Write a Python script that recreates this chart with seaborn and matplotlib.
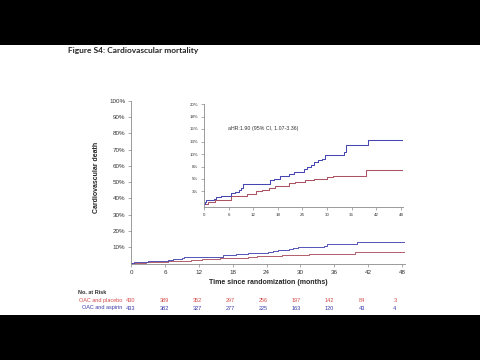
import numpy as np
import pandas as pd
import matplotlib
matplotlib.use("Agg")
import matplotlib.pyplot as plt
import seaborn as sns
from matplotlib.patches import Rectangle
from matplotlib.ticker import FuncFormatter

# ── Data ──────────────────────────────────────────────────────
# cumulative incidence of cardiovascular death, %, step function
aspirin_t = [0, 0.2, 0.6, 2.4, 3.0, 4.2, 6.6, 7.5, 8.6, 9.0, 9.4, 16.2, 17.0, 18.6,
             20.7, 21.9, 24.3, 25.1, 26.0, 26.7, 27.9, 28.7, 29.5, 34.1, 34.7, 40.0, 48.5]
aspirin_y = [0, 0.4, 0.8, 1.0, 1.3, 1.6, 2.1, 2.3, 2.8, 3.1, 3.9, 4.8, 5.0, 5.5,
             6.0, 6.5, 6.9, 7.5, 7.9, 8.4, 8.8, 9.1, 9.8, 10.5, 11.8, 12.9, 12.9]
placebo_t = [0, 1.0, 2.6, 6.6, 10.6, 12.6, 14.2, 15.8, 17.4, 20.7, 22.3, 24.7,
             26.7, 29.9, 31.5, 39.6, 48.5]
placebo_y = [0, 0.3, 0.8, 1.5, 2.0, 2.5, 2.8, 3.1, 3.5, 4.1, 4.3, 4.7,
             4.9, 5.3, 5.6, 6.8, 6.8]

risk_months = [0, 6, 12, 18, 24, 30, 36, 42, 48]
risk_placebo = [430, 389, 352, 297, 256, 197, 142, 84, 3]
risk_aspirin = [433, 382, 327, 277, 225, 163, 120, 43, 4]

main_yticks = [10, 20, 30, 40, 50, 60, 70, 80, 90, 100]
inset_yticks = [2.5, 5, 7.5, 10, 12.5, 15, 17.5, 20]
xticks = [0, 6, 12, 18, 24, 30, 36, 42, 48]

RED = "#ad5262"
BLUE = "#4646b2"
RED_TXT = "#d24a48"
BLUE_TXT = "#3a3aaa"

df = pd.concat([
    pd.DataFrame({"t": placebo_t, "y": placebo_y, "arm": "OAC and placebo"}),
    pd.DataFrame({"t": aspirin_t, "y": aspirin_y, "arm": "OAC and aspirin"}),
])
palette = {"OAC and placebo": RED, "OAC and aspirin": BLUE}

sns.set_theme(style="ticks")
plt.rcParams["font.family"] = ["Liberation Sans", "DejaVu Sans"]

fig = plt.figure(figsize=(4.8, 3.6), dpi=100, facecolor="black")
fig.patches.append(Rectangle((0, 45 / 360), 1, 270 / 360, transform=fig.transFigure,
                             facecolor="white", edgecolor="none", zorder=-5))

fig.text(68 / 480, 1 - 50 / 360, "Figure S4: Cardiovascular mortality", fontsize=6,
         fontweight="bold", family=["Lato", "DejaVu Sans"], va="center", ha="left")

def style_axes(ax, tick_size):
    for s in ["top", "right"]:
        ax.spines[s].set_visible(False)
    for s in ["left", "bottom"]:
        ax.spines[s].set_color("#8a8a8a")
        ax.spines[s].set_linewidth(0.6)
    ax.tick_params(length=2, width=0.5, color="#8a8a8a", labelsize=tick_size,
                   labelcolor="#333333", pad=2)
    ax.set_xlabel("")
    ax.set_ylabel("")
    legend = ax.get_legend()
    if legend is not None:
        legend.remove()

# ── Main axes ─────────────────────────────────────────────────
ax = fig.add_axes([131 / 480, 1 - 264 / 360, 274 / 480, 163 / 360])
ax.set_facecolor("none")
sns.lineplot(data=df, x="t", y="y", hue="arm", palette=palette, ax=ax,
             drawstyle="steps-post", linewidth=0.65, estimator=None)
style_axes(ax, 4.5)
ax.set_xlim(0, 48.5)
ax.set_ylim(-0.5, 100)
ax.set_xticks(xticks)
ax.set_yticks(main_yticks)
ax.yaxis.set_major_formatter(FuncFormatter(lambda v, p: f"{v:.0f}%"))
ax.set_xlabel("Time since randomization (months)", fontsize=5, fontweight="bold", labelpad=3)
ax.set_ylabel("Cardiovascular death", fontsize=5, fontweight="bold")
ax.yaxis.set_label_coords(-0.113, 0.53)

# ── Inset ─────────────────────────────────────────────────────
ins = fig.add_axes([204 / 480, 1 - 207 / 360, 199 / 480, 103 / 360])
ins.set_facecolor("white")
sns.lineplot(data=df, x="t", y="y", hue="arm", palette=palette, ax=ins,
             drawstyle="steps-post", linewidth=0.75, estimator=None)
style_axes(ins, 3.2)
ins.set_xlim(0, 48.5)
ins.set_ylim(-0.6, 20)
ins.set_xticks(xticks)
ins.set_yticks(inset_yticks)
ins.yaxis.set_major_formatter(FuncFormatter(lambda v, p: f"{v:.0f}%" if v % 1 == 0 else f"{v + 0.5:.0f}%"))
ins.text(0.12, 0.76, "aHR:1.90 (95% CI, 1.07-3.36)", transform=ins.transAxes,
         fontsize=3.8, color="#333333", va="center")

# ── Number at risk table ──────────────────────────────────────
tr = ax.get_xaxis_transform()
fig.text(78 / 480, 1 - 293 / 360, "No. at Risk", fontsize=4, fontweight="bold",
         color="#333333", va="center")
y_pl = (264 - 300.5) / 163
y_as = (264 - 308) / 163
ax.text(-1.5, y_pl, "OAC and placebo", transform=tr, fontsize=4, color=RED_TXT,
        ha="right", va="center", clip_on=False)
ax.text(-1.5, y_as, "OAC and aspirin", transform=tr, fontsize=4, color=BLUE_TXT,
        ha="right", va="center", clip_on=False)
for m, a, b in zip(risk_months, risk_placebo, risk_aspirin):
    xm = m * 0.973
    ax.text(xm, y_pl, str(a), transform=tr, fontsize=4, color=RED_TXT,
            ha="center", va="center", clip_on=False)
    ax.text(xm, y_as, str(b), transform=tr, fontsize=4, color=BLUE_TXT,
            ha="center", va="center", clip_on=False)

fig.savefig("out.png", dpi=100, facecolor=fig.get_facecolor())
